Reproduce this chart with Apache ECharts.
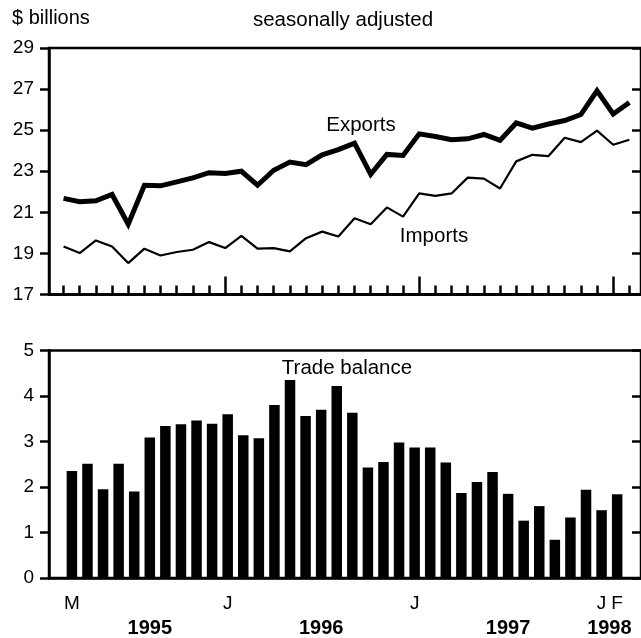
<!DOCTYPE html>
<html>
<head>
<meta charset="utf-8">
<script src="https://cdn.jsdelivr.net/npm/echarts@6/dist/echarts.min.js"></script>
<style>
  html, body { margin: 0; padding: 0; background: #fff; }
  #chart { width: 641px; height: 638px; }
</style>
</head>
<body>
<div id="chart"></div>
<script>
// Mar 1995 .. Feb 1998, one letter per month
var months = ['M','A','M','J','J','A','S','O','N','D',
              'J','F','M','A','M','J','J','A','S','O','N','D',
              'J','F','M','A','M','J','J','A','S','O','N','D',
              'J','F'];
var shownMonths = [0, 10, 22, 34, 35];
var yearStarts = [10, 22, 34];          // January of each new year
var years = ['1995', '1996', '1997', '1998'];
var yearPos = [5, 16, 28, 34.5];

var exportsData = [21.68, 21.52, 21.56, 21.87, 20.42, 22.32, 22.29, 22.48, 22.68, 22.93,
                   22.89, 23.0, 22.32, 23.05, 23.45, 23.32, 23.8, 24.05, 24.37, 22.85, 23.82, 23.77,
                   24.82, 24.69, 24.53, 24.58, 24.79, 24.5, 25.35, 25.1, 25.3, 25.47, 25.76, 26.92,
                   25.79, 26.35];
var importsData = [19.34, 19.02, 19.63, 19.34, 18.53, 19.23, 18.9, 19.07, 19.18, 19.55,
                   19.26, 19.85, 19.23, 19.26, 19.1, 19.74, 20.06, 19.82, 20.71, 20.42, 21.24, 20.79,
                   21.92, 21.8, 21.92, 22.69, 22.64, 22.16, 23.48, 23.8, 23.74, 24.63, 24.42, 24.98,
                   24.29, 24.53];
var balanceData = [2.35, 2.51, 1.95, 2.51, 1.9, 3.09, 3.34, 3.38, 3.46, 3.39,
                   3.6, 3.14, 3.07, 3.8, 4.35, 3.56, 3.7, 4.22, 3.63, 2.43, 2.55, 2.98,
                   2.87, 2.87, 2.54, 1.87, 2.11, 2.33, 1.85, 1.26, 1.58, 0.84, 1.33, 1.94,
                   1.49, 1.84];

var FONT = "'Liberation Sans', Arial, sans-serif";
var idx = months.map(function (m, i) { return i; });
function pairs(arr) { return arr.map(function (v, i) { return [i, v]; }); }

var chart = echarts.init(document.getElementById('chart'), null, {renderer: 'canvas'});

var TICK = 9;

function tick(len, inside) {
    return {show: true, inside: inside, length: len, lineStyle: {color: '#000', width: 2.5}};
}
function spine() {
    return {show: true, onZero: false, lineStyle: {color: '#000', width: 2.5}};
}
var noLine = {show: false, onZero: false};

// left value axis with labels; ticks drawn outward (inward ones don't show here)
function leftY(grid, min, max, step) {
    return {
        gridIndex: grid, type: 'value', min: min, max: max, interval: step, position: 'left',
        axisLine: spine(), splitLine: {show: false},
        axisTick: tick(TICK, false),
        axisLabel: {color: '#000', fontSize: 19, fontFamily: FONT, margin: 15}
    };
}
function rightY(grid, min, max, step) {
    return {
        gridIndex: grid, type: 'value', min: min, max: max, interval: step, position: 'right',
        axisLine: spine(), splitLine: {show: false}, axisLabel: {show: false},
        axisTick: tick(TICK, true)
    };
}

chart.setOption({
    animation: false,
    backgroundColor: '#fff',
    grid: [
        {left: 49, right: -2, top: 48, height: 246.5, show: true, borderColor: '#000', borderWidth: 2.5},
        {left: 49, right: -2, top: 350.5, height: 227.5, show: true, borderColor: '#000', borderWidth: 2.5}
    ],
    xAxis: [
        {
            gridIndex: 0, type: 'value', position: 'bottom', min: -0.9, max: 35.72,
            axisLine: spine(), splitLine: {show: false}, axisLabel: {show: false},
            axisTick: Object.assign(tick(TICK, true), {customValues: idx})
        },
        {
            gridIndex: 0, type: 'value', position: 'bottom', min: -0.9, max: 35.72,
            axisLine: spine(), splitLine: {show: false}, axisLabel: {show: false},
            axisTick: Object.assign(tick(2 * TICK, true), {customValues: yearStarts})
        },
        {
            gridIndex: 1, type: 'value', position: 'bottom', min: -1.47, max: 36.53,
            axisLine: spine(), splitLine: {show: false}, axisTick: {show: false},
            axisLabel: {
                color: '#000', fontSize: 19, fontFamily: FONT, margin: 16,
                customValues: shownMonths,
                formatter: function (v) { return months[Math.round(v)]; }
            }
        },
        {
            gridIndex: 1, type: 'value', position: 'bottom', min: -1.47, max: 36.53,
            axisLine: noLine, splitLine: {show: false}, axisTick: {show: false},
            axisLabel: {
                color: '#000', fontSize: 20, fontWeight: 'bold', fontFamily: FONT, margin: 40,
                customValues: yearPos,
                formatter: function (v) {
                    var best = 0;
                    yearPos.forEach(function (p, k) {
                        if (Math.abs(p - v) < Math.abs(yearPos[best] - v)) best = k;
                    });
                    return years[best];
                }
            }
        }
    ],
    yAxis: [
        leftY(0, 17, 29, 2),
        rightY(0, 17, 29, 2),
        leftY(1, 0, 5, 1),
        rightY(1, 0, 5, 1)
    ],
    series: [
        {
            name: 'Exports', type: 'line', xAxisIndex: 0, yAxisIndex: 0,
            data: pairs(exportsData), showSymbol: false, symbol: 'none',
            lineStyle: {color: '#000', width: 5, join: 'miter'}
        },
        {
            name: 'Imports', type: 'line', xAxisIndex: 0, yAxisIndex: 0,
            data: pairs(importsData), showSymbol: false, symbol: 'none',
            lineStyle: {color: '#000', width: 2.2}
        },
        {
            name: 'Trade balance', type: 'bar', xAxisIndex: 2, yAxisIndex: 2,
            data: pairs(balanceData), barWidth: 10.5,
            itemStyle: {color: '#000'}
        }
    ],
    graphic: [
        {type: 'text', x: 12, y: 18, style: {text: '$ billions', fill: '#000', fontSize: 20, fontFamily: FONT, align: 'left', verticalAlign: 'middle'}},
        {type: 'text', x: 343, y: 20, style: {text: 'seasonally adjusted', fill: '#000', fontSize: 20.5, fontFamily: FONT, align: 'center', verticalAlign: 'middle'}},
        {type: 'text', x: 361, y: 125, style: {text: 'Exports', fill: '#000', fontSize: 20.5, fontFamily: FONT, align: 'center', verticalAlign: 'middle'}},
        {type: 'text', x: 434, y: 236, style: {text: 'Imports', fill: '#000', fontSize: 20.5, fontFamily: FONT, align: 'center', verticalAlign: 'middle'}},
        {type: 'text', x: 347, y: 368, style: {text: 'Trade balance', fill: '#000', fontSize: 20.5, fontFamily: FONT, align: 'center', verticalAlign: 'middle'}}
    ]
});
</script>
</body>
</html>
